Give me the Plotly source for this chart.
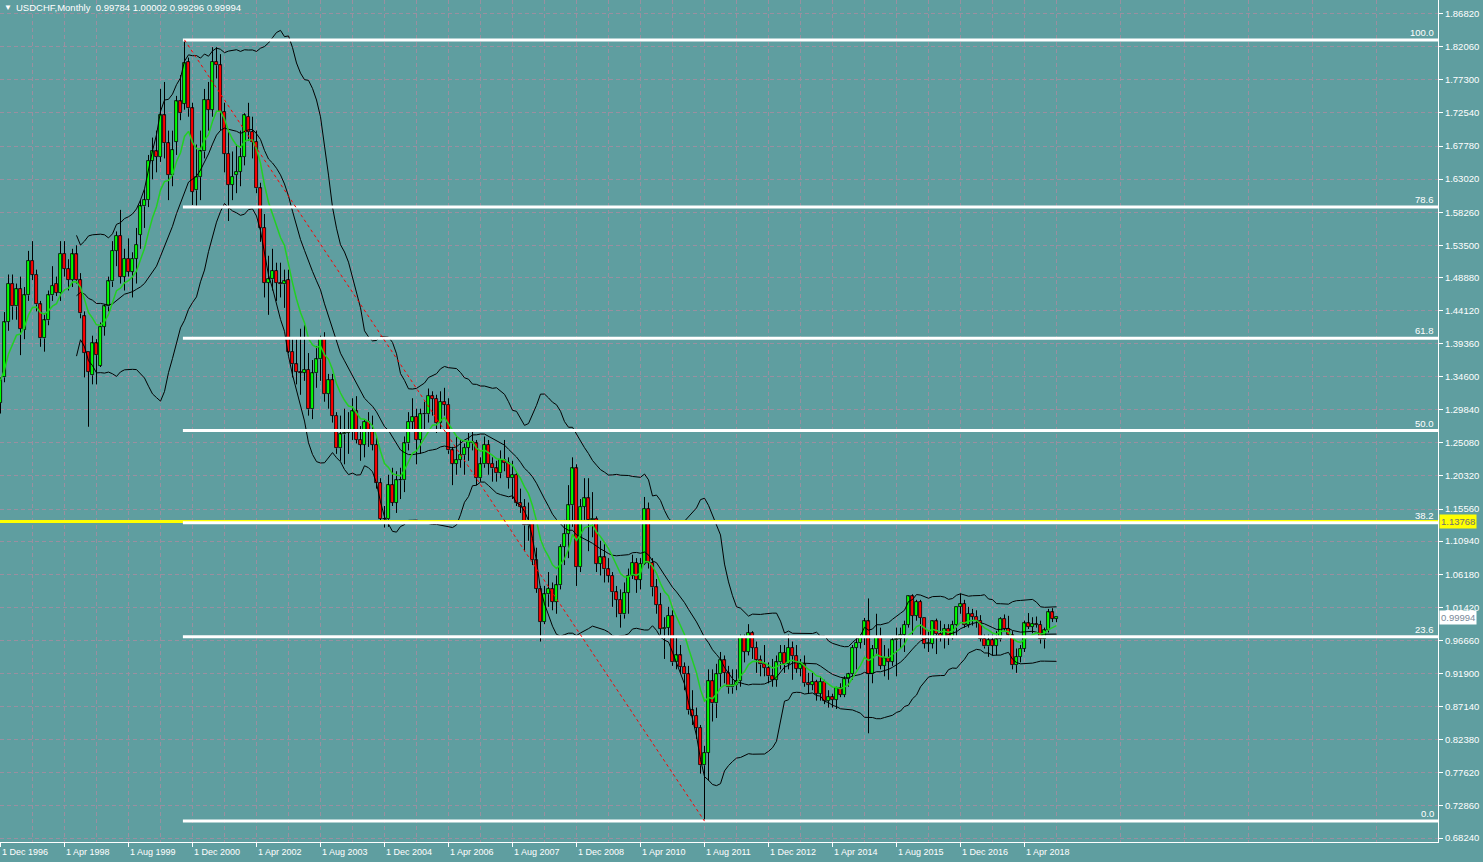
import numpy as np
import pandas as pd
import plotly.graph_objects as go

# ---------------- data (monthly USDCHF, Dec 1996 .. Dec 2018) ----------------
opens = [1.308,
 1.345,1.425,1.480,1.447,1.472,1.413,1.463,1.513,1.493,1.450,1.401,1.427,
 1.463,1.480,1.467,1.523,1.501,1.485,1.522,1.485,1.433,1.382,1.348,1.394,
 1.362,1.418,1.447,1.483,1.527,1.549,1.490,1.516,1.497,1.516,1.550,1.591,
 1.600,1.657,1.670,1.662,1.722,1.682,1.636,1.684,1.742,1.739,1.799,1.732,
 1.614,1.633,1.670,1.744,1.730,1.799,1.794,1.727,1.667,1.622,1.636,1.641,
 1.662,1.720,1.698,1.684,1.617,1.560,1.481,1.486,1.498,1.481,1.479,1.485,
 1.382,1.364,1.353,1.352,1.356,1.299,1.351,1.371,1.401,1.321,1.341,1.290,
 1.243,1.263,1.265,1.267,1.296,1.255,1.248,1.281,1.267,1.248,1.193,1.142,
 1.141,1.190,1.165,1.197,1.197,1.250,1.281,1.288,1.255,1.292,1.292,1.318,
 1.314,1.279,1.310,1.306,1.240,1.221,1.226,1.233,1.244,1.252,1.250,1.200,
 1.220,1.248,1.221,1.214,1.207,1.226,1.222,1.200,1.205,1.164,1.159,1.132,
 1.134,1.082,1.041,0.993,1.033,1.041,1.022,1.046,1.101,1.120,1.161,1.214,
 1.072,1.159,1.171,1.140,1.142,1.077,1.086,1.069,1.060,1.036,1.025,1.004,
 1.035,1.060,1.078,1.054,1.077,1.156,1.078,1.043,1.018,0.983,0.985,1.002,
 0.935,0.945,0.929,0.918,0.866,0.858,0.841,0.787,0.805,0.908,0.876,0.918,
 0.938,0.920,0.899,0.903,0.908,0.972,0.950,0.977,0.956,0.939,0.932,0.927,
 0.915,0.910,0.935,0.949,0.933,0.956,0.944,0.926,0.932,0.905,0.903,0.907,
 0.890,0.907,0.880,0.885,0.881,0.898,0.888,0.911,0.918,0.956,0.963,0.971,
 0.994,0.918,0.954,0.972,0.930,0.941,0.936,0.967,0.969,0.975,0.989,1.030,
 1.002,1.022,0.999,0.962,0.962,0.994,0.976,0.970,0.983,0.970,0.989,1.015,
 1.019,0.989,1.005,1.001,0.995,0.969,0.958,0.967,0.959,0.968,0.998,0.983,
 0.974,0.931,0.943,0.955,0.991,0.986,0.990,0.989,0.968,0.981,1.007,0.99784]

highs = [1.345,
 1.439,1.493,1.493,1.480,1.490,1.475,1.527,1.541,1.500,1.455,1.437,1.470,
 1.505,1.490,1.541,1.541,1.515,1.530,1.535,1.495,1.440,1.382,1.405,1.400,
 1.424,1.450,1.490,1.541,1.555,1.586,1.530,1.545,1.525,1.560,1.600,1.615,
 1.665,1.690,1.700,1.760,1.770,1.700,1.700,1.750,1.780,1.8305,1.805,1.740,
 1.680,1.700,1.760,1.770,1.820,1.820,1.810,1.740,1.700,1.670,1.680,1.700,
 1.725,1.740,1.720,1.700,1.625,1.580,1.520,1.530,1.510,1.510,1.500,1.500,
 1.400,1.400,1.415,1.420,1.380,1.370,1.390,1.405,1.410,1.350,1.350,1.295,
 1.290,1.300,1.295,1.315,1.318,1.275,1.285,1.295,1.290,1.260,1.200,1.160,
 1.205,1.215,1.210,1.215,1.260,1.295,1.315,1.300,1.300,1.310,1.329,1.325,
 1.320,1.325,1.330,1.315,1.245,1.260,1.255,1.250,1.265,1.270,1.255,1.230,
 1.260,1.255,1.230,1.225,1.240,1.255,1.230,1.225,1.210,1.185,1.170,1.165,
 1.140,1.100,1.045,1.045,1.065,1.050,1.060,1.105,1.140,1.190,1.230,1.220,
 1.170,1.200,1.200,1.180,1.145,1.110,1.105,1.085,1.065,1.045,1.040,1.050,
 1.070,1.090,1.085,1.085,1.173,1.165,1.085,1.055,1.035,1.000,1.015,1.010,
 0.970,0.960,0.935,0.930,0.895,0.870,0.845,0.815,0.925,0.925,0.933,0.950,
 0.945,0.930,0.925,0.925,0.975,0.975,0.990,0.980,0.965,0.945,0.960,0.935,
 0.940,0.945,0.960,0.960,0.975,0.965,0.960,0.940,0.945,0.920,0.920,0.910,
 0.915,0.910,0.895,0.890,0.900,0.905,0.915,0.920,0.960,0.970,0.975,0.999,
 1.027,0.960,1.005,0.985,0.960,0.955,0.970,0.985,0.985,0.995,1.031,1.033,
 1.025,1.025,0.999,0.980,0.995,0.998,0.995,0.990,0.990,0.995,1.015,1.034,
 1.025,1.015,1.012,1.010,1.003,0.975,0.975,0.975,0.980,1.000,1.004,1.002,
 0.980,0.955,0.960,0.995,1.006,1.000,1.001,0.995,0.985,1.012,1.013,1.00002]

lows = [1.293,
 1.338,1.412,1.428,1.428,1.377,1.400,1.455,1.485,1.440,1.389,1.382,1.420,
 1.455,1.462,1.455,1.490,1.470,1.475,1.480,1.430,1.345,1.274,1.335,1.335,
 1.360,1.405,1.440,1.475,1.505,1.480,1.470,1.490,1.460,1.480,1.530,1.560,
 1.590,1.630,1.640,1.655,1.660,1.600,1.620,1.665,1.715,1.730,1.720,1.593,
 1.590,1.600,1.660,1.700,1.720,1.775,1.700,1.640,1.570,1.600,1.610,1.620,
 1.650,1.685,1.660,1.610,1.540,1.460,1.435,1.470,1.455,1.460,1.445,1.380,
 1.345,1.335,1.320,1.340,1.290,1.285,1.330,1.340,1.310,1.300,1.280,1.235,
 1.225,1.220,1.235,1.255,1.250,1.225,1.230,1.245,1.240,1.185,1.135,1.129,
 1.130,1.160,1.150,1.170,1.180,1.240,1.270,1.220,1.235,1.270,1.280,1.290,
 1.265,1.270,1.290,1.235,1.190,1.205,1.215,1.205,1.225,1.240,1.190,1.195,
 1.215,1.205,1.195,1.195,1.200,1.210,1.185,1.170,1.160,1.150,1.095,1.110,
 1.075,1.035,0.965,0.990,1.015,1.010,1.005,1.040,1.075,1.085,1.130,1.045,
 1.065,1.140,1.095,1.115,1.065,1.060,1.050,1.050,1.015,1.000,0.985,0.998,
 1.005,1.055,1.035,1.040,1.075,1.070,1.030,1.005,0.975,0.940,0.970,0.930,
 0.925,0.920,0.895,0.860,0.845,0.825,0.775,0.7067,0.765,0.850,0.855,0.900,
 0.905,0.890,0.890,0.895,0.900,0.935,0.945,0.940,0.920,0.915,0.915,0.905,
 0.900,0.900,0.925,0.920,0.925,0.910,0.920,0.915,0.900,0.890,0.895,0.880,
 0.880,0.875,0.870,0.870,0.868,0.885,0.885,0.900,0.910,0.925,0.955,0.960,
 0.833,0.905,0.945,0.925,0.915,0.910,0.930,0.915,0.955,0.950,0.985,0.975,
 0.995,0.975,0.955,0.950,0.955,0.947,0.965,0.955,0.960,0.968,0.972,1.005,
 0.985,0.985,0.988,0.985,0.965,0.955,0.943,0.945,0.945,0.965,0.980,0.970,
 0.925,0.920,0.935,0.950,0.983,0.977,0.985,0.962,0.955,0.978,0.993,0.99296]

closes = [1.341,
 1.424,1.480,1.447,1.472,1.415,1.463,1.513,1.493,1.450,1.401,1.427,1.463,
 1.477,1.467,1.523,1.501,1.485,1.522,1.485,1.437,1.380,1.353,1.394,1.377,
 1.418,1.447,1.483,1.527,1.549,1.490,1.516,1.497,1.516,1.536,1.591,1.600,
 1.657,1.670,1.662,1.722,1.682,1.636,1.672,1.742,1.725,1.797,1.732,1.612,
 1.633,1.670,1.744,1.730,1.799,1.794,1.727,1.667,1.622,1.634,1.641,1.662,
 1.722,1.698,1.684,1.617,1.560,1.481,1.486,1.498,1.481,1.479,1.483,1.382,
 1.364,1.353,1.352,1.356,1.299,1.351,1.371,1.401,1.321,1.341,1.290,1.243,
 1.263,1.265,1.267,1.296,1.255,1.248,1.281,1.267,1.248,1.193,1.142,1.141,
 1.190,1.165,1.197,1.197,1.250,1.281,1.288,1.255,1.292,1.292,1.318,1.314,
 1.279,1.310,1.306,1.240,1.221,1.226,1.233,1.244,1.252,1.250,1.200,1.220,
 1.248,1.221,1.214,1.207,1.226,1.222,1.200,1.205,1.164,1.159,1.132,1.134,
 1.082,1.041,0.993,1.033,1.041,1.022,1.046,1.101,1.120,1.161,1.214,1.072,
 1.159,1.171,1.140,1.142,1.077,1.086,1.069,1.060,1.036,1.025,1.004,1.035,
 1.060,1.078,1.054,1.077,1.156,1.078,1.043,1.018,0.983,0.985,1.002,0.935,
 0.945,0.929,0.918,0.866,0.858,0.841,0.787,0.805,0.908,0.876,0.918,0.938,
 0.920,0.899,0.903,0.908,0.972,0.950,0.977,0.956,0.939,0.932,0.927,0.915,
 0.910,0.935,0.949,0.933,0.956,0.944,0.926,0.932,0.905,0.903,0.907,0.890,
 0.907,0.880,0.885,0.881,0.898,0.888,0.911,0.918,0.956,0.963,0.971,0.994,
 0.918,0.954,0.972,0.930,0.941,0.936,0.967,0.969,0.975,0.989,1.030,1.002,
 1.022,0.999,0.962,0.962,0.994,0.976,0.970,0.983,0.970,0.989,1.015,1.019,
 0.989,1.005,1.001,0.995,0.969,0.958,0.967,0.959,0.968,0.998,0.983,0.974,
 0.931,0.943,0.955,0.991,0.986,0.990,0.989,0.968,0.981,1.007,0.998,0.99994]

price_ticks = [1.86820, 1.82060, 1.77300, 1.72540, 1.67780, 1.63020, 1.58260,
               1.53500, 1.48880, 1.44120, 1.39360, 1.34600, 1.29840, 1.25080,
               1.20320, 1.15560, 1.10940, 1.06180, 1.01420, 0.96660, 0.91900,
               0.87140, 0.82380, 0.77620, 0.72860, 0.68240]

fib_levels = [0.0, 23.6, 38.2, 50.0, 61.8, 78.6, 100.0]
fib_high = 1.8305      # Oct 2000 high
fib_low = 0.7067       # Aug 2011 low
hline_price = 1.13768
title_text = "USDCHF,Monthly  0.99784 1.00002 0.99296 0.99994"

# ---------------- derived ----------------
n = len(closes)
dates = pd.date_range("1996-12-01", periods=n, freq="MS")
idx = np.arange(n)
o = np.array(opens); c = np.array(closes)
h = np.maximum(np.array(highs), np.maximum(o, c))
l = np.minimum(np.array(lows), np.minimum(o, c))
s = pd.Series(c)
mid = s.rolling(20).mean()
sd = s.rolling(20).std(ddof=0)
upper = mid + 2 * sd
lower = mid - 2 * sd
ema = s.ewm(span=10, adjust=False).mean()

i_high = int(np.argmax(h))
i_low = int(np.argmin(l))

BG = "#5F9EA0"
GRID = "#9a8fa0"
FG = "#ffffff"
FONT = "Liberation Sans"
FS = 9.5

x_right = 359.375
x_left = -0.125

fig = go.Figure()

# wicks (upper and lower shadow segments, so they do not cover the bodies)
body_top = np.maximum(o, c)
body_bot = np.minimum(o, c)
wx, wy = [], []
for i in range(n):
    wx += [i, i, None, i, i, None]
    wy += [l[i], body_bot[i], None, body_top[i], h[i], None]
fig.add_trace(go.Scatter(x=wx, y=wy, mode="lines",
                         line=dict(color="black", width=1),
                         hoverinfo="skip", showlegend=False))
# bodies
height = np.maximum(body_top - body_bot, 0.0004)
up = c >= o
for mask, col in ((up, "#00FF00"), (~up, "#FF0000")):
    fig.add_trace(go.Bar(x=idx[mask], base=body_bot[mask], y=height[mask],
                         width=0.7, marker=dict(color=col,
                         line=dict(color="black", width=0.8)),
                         hoverinfo="skip", showlegend=False))

for ser in (upper, mid, lower):
    fig.add_trace(go.Scatter(x=idx, y=ser, mode="lines",
                             line=dict(color="black", width=1),
                             hoverinfo="skip", showlegend=False))
fig.add_trace(go.Scatter(x=idx, y=ema, mode="lines",
                         line=dict(color="#22D022", width=1.5),
                         hoverinfo="skip", showlegend=False))

shapes = []
shapes.append(dict(type="line", xref="paper", x0=0, x1=1, yref="y",
                   y0=hline_price, y1=hline_price,
                   line=dict(color="#FFFF00", width=3)))
annotations = []
for lv in fib_levels:
    p = fib_low + (fib_high - fib_low) * lv / 100.0
    shapes.append(dict(type="line", xref="x", x0=i_high - 0.4, x1=x_right,
                       yref="y", y0=p, y1=p,
                       line=dict(color="white", width=3)))
    annotations.append(dict(xref="paper", x=1, xanchor="right", xshift=-2,
                            yref="y", y=p, yanchor="bottom", yshift=0,
                            text=f"{lv:.1f}", showarrow=False,
                            font=dict(family=FONT, size=FS, color=FG)))
shapes.append(dict(type="line", xref="x", yref="y",
                   x0=i_high, y0=fib_high, x1=i_low, y1=fib_low,
                   line=dict(color="#FF0000", width=1, dash="dot")))

annotations.append(dict(xref="paper", x=1, xanchor="left", xshift=1,
                        yref="y", y=hline_price, yanchor="middle",
                        text=f"{hline_price:.5f}", showarrow=False,
                        bgcolor="#FFFF00", borderpad=1,
                        font=dict(family=FONT, size=FS, color="#707070")))
annotations.append(dict(xref="paper", x=1, xanchor="left", xshift=1,
                        yref="y", y=closes[-1], yanchor="middle",
                        text=f"{closes[-1]:.5f}", showarrow=False,
                        bgcolor="#FFFFFF", borderpad=1,
                        font=dict(family=FONT, size=FS, color="#7a8a9a")))
major_x = [k - 0.125 for k in range(0, n, 16)]
for k in range(0, n, 16):
    d = dates[k]
    annotations.append(dict(xref="x", x=k - 0.125, xanchor="left", xshift=0,
                            yref="paper", y=0, yanchor="top", yshift=-3,
                            text=f"1 {d.strftime('%b')} {d.year}", showarrow=False,
                            font=dict(family=FONT, size=9, color=FG)))
annotations.append(dict(xref="paper", x=0, xanchor="left", xshift=2,
                        yref="paper", y=1, yanchor="top", yshift=-1,
                        text="▼", showarrow=False,
                        font=dict(family=FONT, size=8, color=FG)))
annotations.append(dict(xref="paper", x=0, xanchor="left", xshift=14,
                        yref="paper", y=1, yanchor="top", yshift=0,
                        text=title_text, showarrow=False,
                        font=dict(family=FONT, size=FS, color=FG)))

fig.update_layout(
    width=1483, height=862,
    margin=dict(l=0, r=45, t=0, b=20),
    paper_bgcolor=BG, plot_bgcolor=BG,
    barmode="overlay", bargap=0,
    shapes=shapes, annotations=annotations,
    showlegend=False,
    xaxis=dict(range=[x_left, x_right],
               tickmode="array", tickvals=major_x, showticklabels=False,
               ticks="outside", ticklen=4, tickcolor="white",
               showgrid=True, gridcolor=GRID, griddash="4px,3px", gridwidth=1,
               minor=dict(tickmode="array",
                          tickvals=[k - 0.125 for k in range(8, n + 100, 16)],
                          showgrid=True, gridcolor=GRID, griddash="4px,3px",
                          ticks=""),
               showline=True, linecolor="white", linewidth=1,
               zeroline=False, fixedrange=True),
    yaxis=dict(range=[0.67665, 1.8879], side="right",
               tickmode="array", tickvals=price_ticks,
               ticktext=[f"{v:.5f}" for v in price_ticks],
               ticks="outside", ticklen=4, tickcolor="white",
               tickfont=dict(family=FONT, size=FS, color=FG),
               showgrid=True, gridcolor=GRID, griddash="4px,3px", gridwidth=1,
               showline=True, linecolor="white", linewidth=1,
               zeroline=False, fixedrange=True),
)
fig.write_html("out.html", config={"displayModeBar": False},
               post_script="document.body.style.margin='0px';document.body.style.overflow='hidden';")
